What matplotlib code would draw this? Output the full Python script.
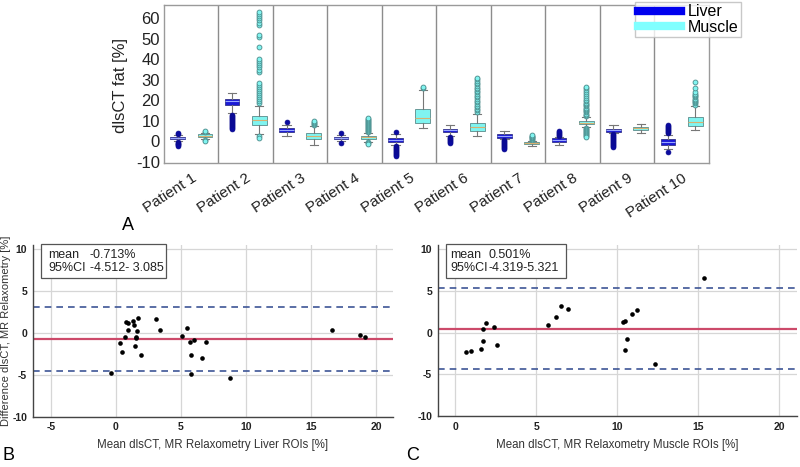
import matplotlib
matplotlib.use("Agg")
import matplotlib.pyplot as plt
from matplotlib.lines import Line2D
from matplotlib.patches import Rectangle
import matplotlib.transforms as mtrans

plt.rcParams['font.family'] = ['Liberation Sans', 'DejaVu Sans']

# ---------------- Panel A data ----------------
patients = ["Patient 1", "Patient 2", "Patient 3", "Patient 4", "Patient 5",
            "Patient 6", "Patient 7", "Patient 8", "Patient 9", "Patient 10"]

liver_q1 = [1.0, 17.9, 4.4, 1.0, -0.3, 4.3, 1.6, -0.2, 4.3, -1.8]
liver_med = [1.6, 19.5, 5.5, 1.5, 0.5, 5.2, 2.5, 0.5, 5.2, -0.5]
liver_q3 = [2.2, 20.5, 6.5, 2.0, 1.3, 6.0, 3.3, 1.3, 5.9, 0.8]
liver_whislo = [0.2, 13.8, 2.4, 0.2, -2.0, 2.5, 1.0, -1.8, 3.8, -3.9]
liver_whishi = [3.0, 23.3, 8.0, 3.0, 3.5, 7.8, 5.0, 2.0, 7.8, 3.0]
liver_fliers = [
    [3.4, 3.9, -0.3, -0.8, -1.2, -1.6, -2.0, -2.3],
    [13.0, 12.5, 12.0, 11.5, 11.0, 10.5, 10.0, 9.5, 9.0, 8.5, 8.0, 7.5, 7.0, 6.5, 6.0],
    [9.4],
    [4.1, -1.1],
    [4.5, -2.5, -3.0, -3.5, -4.0, -4.5, -5.0, -5.5, -6.0, -6.5, -7.0, -7.3],
    [2.0, 1.5, 1.0, 0.5, 0.0, -0.5, -0.8],
    [0.5, 0.0, -0.5, -1.0, -1.5, -2.0, -2.5, -3.0, -3.5, -3.8],
    [2.5, 3.0, 3.5, 4.0, 4.5, 5.0],
    [3.5, 3.0, 2.5, 2.0, 1.5, 1.0, 0.5, 0.0, -0.5, -1.0, -1.5, -2.0, -2.5, -2.8],
    [3.8, 4.3, 4.8, 5.3, 5.8, 6.3, 6.8, 7.3, 7.8, -5.4],
]

muscle_q1 = [2.0, 8.0, 1.1, 1.0, 9.0, 5.0, -1.5, 8.3, 5.4, 7.3]
muscle_med = [2.6, 10.3, 2.5, 1.8, 11.1, 7.0, -0.8, 9.0, 6.2, 9.4]
muscle_q3 = [3.3, 12.2, 3.8, 2.7, 15.6, 8.8, -0.3, 9.9, 7.0, 11.6]
muscle_whislo = [1.0, 3.3, -2.1, -0.3, 6.4, 2.4, -2.3, 7.0, 3.9, 5.4]
muscle_whishi = [4.0, 17.1, 7.3, 4.0, 25.0, 13.5, 0.2, 11.6, 8.3, 17.1]
muscle_fliers = [
    [4.4, 4.8, 0.6, 0.2],
    [18.5, 19.5, 20.5, 21.5, 22.5, 23.5, 24.5, 25.5, 26.5, 27.5, 28.5,
     34.0, 35.0, 36.0, 37.0, 38.0, 39.0, 40.0, 45.8, 51.0, 52.0,
     57.0, 58.0, 59.0, 60.0, 61.0, 62.0, 63.0, 2.5, 1.5],
    [8.0, 8.5, 9.0, 9.5, 10.0],
    [4.5, 5.0, 5.5, 6.0, 6.5, 7.0, 7.5, 8.0, 8.5, 9.0, 9.5, 10.0, 10.5, 11.0, 11.5,
     -0.5, -1.0, -1.5],
    [25.8, 26.3],
    [14.2, 15.0, 15.8, 16.6, 17.4, 18.2, 19.0, 19.8, 20.6, 21.4, 22.2, 23.0,
     23.8, 24.6, 25.4, 26.2, 27.0, 27.8, 28.6, 29.4, 30.2, 31.0],
    [0.6, 1.0, 1.4, 1.8, 2.2, 2.6, 2.9],
    [12.2, 12.8, 13.4, 14.0, 14.6, 15.2, 15.8, 16.4, 17.0, 17.6, 18.2, 18.8,
     19.4, 20.0, 21.0, 22.0, 23.0, 24.0, 25.0, 26.0, 26.5,
     6.5, 6.0, 5.5, 5.0, 4.5, 4.0, 3.5, 3.0, 2.5, 2.0],
    [],
    [17.8, 18.4, 19.0, 19.6, 20.2, 20.8, 21.4, 22.0, 22.6, 23.2, 24.0, 25.9, 28.7],
]

# ---------------- Panel B data ----------------
liver_mean = [-0.36, 0.28, 0.48, 0.67, 0.77, 0.92, 0.92, 1.28, 1.38, 1.43,
              1.51, 1.56, 1.61, 1.69, 1.92, 3.05, 3.41, 5.05, 5.43, 5.66,
              5.74, 5.79, 6.0, 6.64, 6.9, 8.74, 16.64, 18.74, 19.15]
liver_diff = [-4.8, -1.24, -2.28, -0.52, 1.32, 1.25, 0.4, 1.4, 0.92, -1.6,
              -0.6, -0.48, 0.24, 1.8, -2.6, 1.68, 0.36, -0.31, 0.65, -1.12,
              -2.6, -4.95, -0.8, -2.95, -1.03, -5.4, 0.36, -0.28, -0.44]
liver_bias = -0.713
liver_loa = [-4.512, 3.085]

# ---------------- Panel C data ----------------
muscle_mean = [0.66, 0.97, 1.6, 1.73, 1.71, 1.91, 2.4, 2.59, 5.75, 6.23,
               6.5, 6.95, 10.34, 10.5, 10.46, 10.6, 10.93, 11.24, 12.35, 15.39]
muscle_diff = [-2.35, -2.16, -2.0, -1.0, 0.4, 1.2, 0.72, -1.52, 0.88, 1.84,
               3.2, 2.88, 1.28, 1.36, -2.04, -0.8, 2.28, 2.68, -3.72, 6.56]
muscle_bias = 0.501
muscle_loa = [-4.319, 5.321]

# ---------------- Figure ----------------
fig = plt.figure(figsize=(8.0, 4.67), dpi=100)

LIVER_C = '#1a1ad6'
MUSCLE_C = '#80f4f0'

axA = fig.add_axes([0.205, 0.651, 0.681, 0.338])


def stats(q1, med, q3, lo, hi, fl):
    out = []
    for i in range(len(q1)):
        out.append(dict(q1=q1[i], med=med[i], q3=q3[i], whislo=lo[i],
                        whishi=hi[i], fliers=fl[i]))
    return out


pos = list(range(1, len(patients) + 1))
lpos = [p - 0.25 for p in pos]
mpos = [p + 0.25 for p in pos]

axA.bxp(stats(liver_q1, liver_med, liver_q3, liver_whislo, liver_whishi, liver_fliers),
        positions=lpos, widths=0.27, patch_artist=True, manage_ticks=False,
        boxprops=dict(facecolor=LIVER_C, edgecolor='#333388', linewidth=0.6),
        medianprops=dict(color='#9aa8ff', linewidth=0.8),
        whiskerprops=dict(color='#777777', linewidth=0.8),
        capprops=dict(color='#777777', linewidth=0.8), capwidths=0.15,
        flierprops=dict(marker='o', markersize=3.5, markerfacecolor='#0a0aa0',
                        markeredgecolor='#0a0a90', markeredgewidth=0.5))
axA.bxp(stats(muscle_q1, muscle_med, muscle_q3, muscle_whislo, muscle_whishi, muscle_fliers),
        positions=mpos, widths=0.27, patch_artist=True, manage_ticks=False,
        boxprops=dict(facecolor=MUSCLE_C, edgecolor='#5a8a8a', linewidth=0.6),
        medianprops=dict(color='#d9b070', linewidth=0.8),
        whiskerprops=dict(color='#777777', linewidth=0.8),
        capprops=dict(color='#777777', linewidth=0.8), capwidths=0.15,
        flierprops=dict(marker='o', markersize=3.5, markerfacecolor=MUSCLE_C,
                        markeredgecolor='#4a8a8a', markeredgewidth=0.6))

axA.set_xlim(0.5, len(patients) + 0.5)
axA.set_ylim(-10.7, 66.5)
for p in pos[:-1]:
    axA.axvline(p + 0.5, color='#8c8c8c', linewidth=1.0)
axA.set_yticks([-10, 0, 10, 20, 30, 40, 50, 60])
axA.set_yticklabels(['-10', '0', '10', '20', '30', '40', '50', '60'], fontsize=12)
axA.set_xticks(pos)
axA.set_xticklabels(patients, fontsize=11, rotation=33, ha='right',
                    rotation_mode='anchor')
offset = mtrans.ScaledTranslation(12 / 100, 0, fig.dpi_scale_trans)
for lbl in axA.get_xticklabels():
    lbl.set_transform(lbl.get_transform() + offset)
axA.tick_params(axis='both', length=0, pad=3, colors='#222222')
axA.tick_params(axis='x', pad=6)
for s in axA.spines.values():
    s.set_color('#9a9a9a')
    s.set_linewidth(1.0)
axA.set_ylabel('dlsCT fat [%]', fontsize=12, color='#222222')
axA.yaxis.set_label_coords(-0.066, 0.49)

leg_handles = [Line2D([], [], color='#0000ee', linewidth=6),
               Line2D([], [], color='#80ffff', linewidth=6)]
fig.legend(leg_handles, ['Liver', 'Muscle'], loc='upper left',
           bbox_to_anchor=(0.794, 0.996), fontsize=11.5, frameon=True,
           fancybox=False, edgecolor='#bbbbbb', handlelength=2.7,
           borderpad=0.15, labelspacing=0.05, handletextpad=0.45,
           borderaxespad=0.0)

fig.text(0.152, 1 - 226 / 467, 'A', fontsize=13, ha='left', va='center')


def bland(ax, xs, ys, bias, loa, xlim, xticks, xlabel, line1, line2,
          box_w, col1, col2):
    ax.set_xlim(*xlim)
    ax.set_ylim(-10, 10.5)
    ax.set_xticks(xticks)
    ax.set_xticklabels([str(t) for t in xticks], fontsize=7.5, fontweight='bold')
    ax.set_yticks([-10, -5, 0, 5, 10])
    ax.set_yticklabels(['-10', '-5', '0', '5', '10'], fontsize=7.5, fontweight='bold')
    ax.grid(True, color='#d6d6d6', linewidth=0.9)
    ax.set_axisbelow(True)
    ax.tick_params(axis='both', length=0, pad=4, colors='#222222')
    for k in ['top', 'right']:
        ax.spines[k].set_visible(False)
    for k in ['left', 'bottom']:
        ax.spines[k].set_color('#444444')
        ax.spines[k].set_linewidth(1.0)
    ax.axhline(bias, color='#cc4a6a', linewidth=1.6, zorder=2)
    for v in loa:
        ax.axhline(v, color='#3d5596', linewidth=1.2, linestyle=(0, (4, 3)), zorder=2)
    ax.scatter(xs, ys, s=11, color='black', zorder=3, linewidths=0)
    ax.set_xlabel(xlabel, fontsize=8.3, color='#333333', labelpad=5)
    ax.add_patch(Rectangle((0.023, 0.81), box_w, 0.195, transform=ax.transAxes,
                           facecolor='white', edgecolor='#555555', linewidth=0.9,
                           zorder=4, clip_on=False))
    kw = dict(transform=ax.transAxes, fontsize=9, va='center', ha='left',
              zorder=5, color='#222222')
    ax.text(col1, 0.942, line1[0], **kw)
    ax.text(col1, 0.864, line2[0], **kw)
    ax.text(col2, 0.942, line1[1], **kw)
    ax.text(col2, 0.864, line2[1], **kw)


axB = fig.add_axes([0.041, 0.108, 0.450, 0.367])
bland(axB, liver_mean, liver_diff, liver_bias, liver_loa, (-6.4, 21.3),
      [-5, 0, 5, 10, 15, 20], 'Mean dlsCT, MR Relaxometry Liver ROIs [%]',
      ('mean', '-0.713%'), ('95%CI', '-4.512- 3.085'), 0.346, 0.043, 0.158)
axB.set_ylabel('Difference dlsCT, MR Relaxometry [%]', fontsize=8,
               color='#333333')
axB.yaxis.set_label_coords(-0.060, 0.5)

axC = fig.add_axes([0.547, 0.109, 0.449, 0.366])
bland(axC, muscle_mean, muscle_diff, muscle_bias, muscle_loa, (-1.1, 21.1),
      [0, 5, 10, 15, 20], 'Mean dlsCT, MR Relaxometry Muscle ROIs [%]',
      ('mean', '0.501%'), ('95%CI', '-4.319-5.321'), 0.335, 0.036, 0.142)

fig.text(0.003, 1 - 455 / 467, 'B', fontsize=13, ha='left', va='center')
fig.text(0.508, 1 - 455 / 467, 'C', fontsize=13, ha='left', va='center')

fig.savefig('out.png', dpi=100)
